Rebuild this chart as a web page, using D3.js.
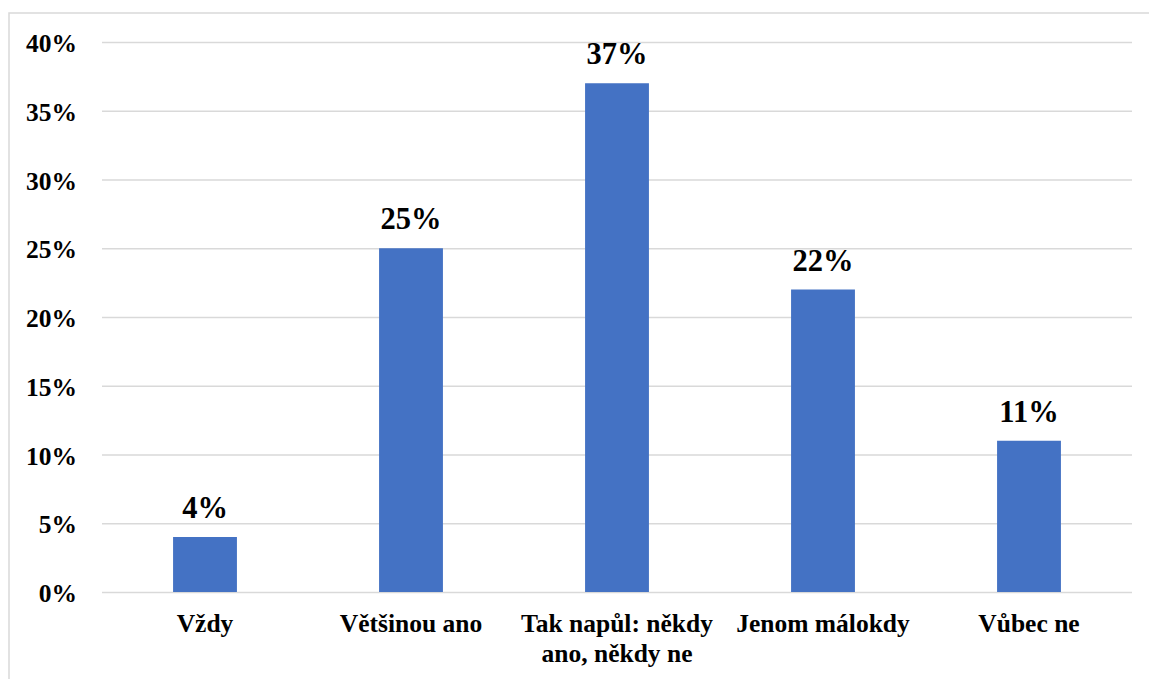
<!DOCTYPE html>
<html>
<head>
<meta charset="utf-8">
<script src="https://cdn.jsdelivr.net/npm/d3@7"></script>
<style>
  html, body { margin: 0; padding: 0; background: #fff; }
  svg { display: block; }
  text { font-family: "Liberation Serif", "Times New Roman", serif; font-weight: bold; fill: #000; }
</style>
</head>
<body>
<svg id="chart" width="1149" height="679"></svg>
<script>
// Answer categories (label lines) and their shares in percent
const categories = ["Vždy", "Většinou ano", "Tak napůl: někdy ano, někdy ne", "Jenom málokdy", "Vůbec ne"];
const categoryLines = [["Vždy"], ["Většinou ano"], ["Tak napůl: někdy", "ano, někdy ne"], ["Jenom málokdy"], ["Vůbec ne"]];
const values = [4, 25, 37, 22, 11];
const tickValues = [0, 5, 10, 15, 20, 25, 30, 35, 40];

const svg = d3.select("#chart");
const W = 1149, H = 679;
const plot = { left: 102, right: 1132, top: 42, bottom: 592 };

// Frame around the chart area
svg.append("path")
  .attr("d", `M9,${H} L9,13 L${W},13`)
  .attr("fill", "none")
  .attr("stroke", "#d9d9d9")
  .attr("stroke-width", 1.5);

const x = d3.scaleBand()
  .domain(categories)
  .range([plot.left, plot.right])
  .paddingInner(0.69)
  .paddingOuter(0.345);

const y = d3.scaleLinear()
  .domain([0, 40])
  .range([plot.bottom, plot.top]);

// Horizontal gridlines with percent labels
const yAxis = d3.axisLeft(y)
  .tickValues(tickValues)
  .tickSize(-(plot.right - plot.left))
  .tickPadding(25)
  .tickFormat(d => d + "%");

const gy = svg.append("g")
  .attr("transform", `translate(${plot.left},0)`)
  .call(yAxis);
gy.select(".domain").remove();
gy.selectAll(".tick line").attr("stroke", "#d9d9d9").attr("stroke-width", 1.4);
gy.selectAll(".tick text")
  .attr("font-size", 25.5)
  .attr("dy", "0.38em")
  .style("font-family", "'Liberation Serif', 'Times New Roman', serif")
  .style("font-weight", "bold")
  .attr("fill", "#000");

// Bars
svg.append("g").selectAll("rect")
  .data(values)
  .join("rect")
  .attr("x", (d, i) => x(categories[i]))
  .attr("y", d => y(d))
  .attr("width", x.bandwidth())
  .attr("height", d => y(0) - y(d))
  .attr("fill", "#4472C4");

// Value labels above the bars
svg.append("g").selectAll("text")
  .data(values)
  .join("text")
  .attr("x", (d, i) => x(categories[i]) + x.bandwidth() / 2)
  .attr("y", d => y(d) - 19)
  .attr("text-anchor", "middle")
  .attr("font-size", 30.5)
  .text(d => d + "%");

// Category labels under the axis
const xl = svg.append("g").selectAll("text")
  .data(categories)
  .join("text")
  .attr("x", d => x(d) + x.bandwidth() / 2)
  .attr("y", 632)
  .attr("text-anchor", "middle")
  .attr("font-size", 25.5);
xl.each(function(d, i) {
  const t = d3.select(this);
  categoryLines[i].forEach((line, j) => {
    t.append("tspan")
      .attr("x", x(d) + x.bandwidth() / 2)
      .attr("dy", j === 0 ? 0 : 30)
      .text(line);
  });
});
</script>
</body>
</html>
